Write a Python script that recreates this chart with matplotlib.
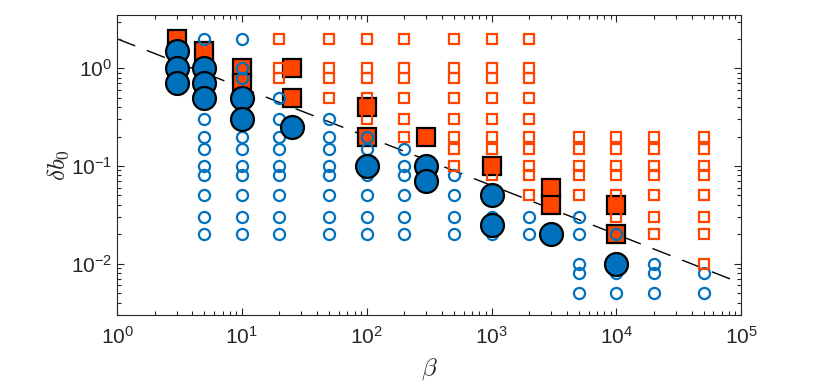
import numpy as np
import matplotlib
matplotlib.use("Agg")
import matplotlib.pyplot as plt

# ---- data ----
# open blue circles (grid points)
oc_beta = [5]*12 + [10]*12 + [20]*9 + [50]*8 + [100]*7 + [200]*6 + [500]*4 + [1000]*3 + [2000]*2 + \
          [5000]*5 + [10000]*4 + [20000]*3 + [50000]*2
oc_db = [2, 1, 0.8, 0.5, 0.3, 0.2, 0.15, 0.1, 0.08, 0.05, 0.03, 0.02] + \
        [2, 1, 0.8, 0.5, 0.3, 0.2, 0.15, 0.1, 0.08, 0.05, 0.03, 0.02] + \
        [0.5, 0.3, 0.2, 0.15, 0.1, 0.08, 0.05, 0.03, 0.02] + \
        [0.3, 0.2, 0.15, 0.1, 0.08, 0.05, 0.03, 0.02] + \
        [0.2, 0.15, 0.1, 0.08, 0.05, 0.03, 0.02] + \
        [0.15, 0.1, 0.08, 0.05, 0.03, 0.02] + \
        [0.08, 0.05, 0.03, 0.02] + \
        [0.05, 0.03, 0.02] + \
        [0.03, 0.02] + \
        [0.03, 0.02, 0.01, 0.008, 0.005] + \
        [0.02, 0.01, 0.008, 0.005] + \
        [0.01, 0.008, 0.005] + \
        [0.008, 0.005]

# open orange squares (grid points)
os_beta = [20]*3 + [50]*4 + [100]*5 + [200]*6 + [500]*8 + [1000]*9 + [2000]*10 + \
          [5000]*5 + [10000]*6 + [20000]*7 + [50000]*8
os_db = [2, 1, 0.8] + \
        [2, 1, 0.8, 0.5] + \
        [2, 1, 0.8, 0.5, 0.3] + \
        [2, 1, 0.8, 0.5, 0.3, 0.2] + \
        [2, 1, 0.8, 0.5, 0.3, 0.2, 0.15, 0.1] + \
        [2, 1, 0.8, 0.5, 0.3, 0.2, 0.15, 0.1, 0.08] + \
        [2, 1, 0.8, 0.5, 0.3, 0.2, 0.15, 0.1, 0.08, 0.05] + \
        [0.2, 0.15, 0.1, 0.08, 0.05] + \
        [0.2, 0.15, 0.1, 0.08, 0.05, 0.03] + \
        [0.2, 0.15, 0.1, 0.08, 0.05, 0.03, 0.02] + \
        [0.2, 0.15, 0.1, 0.08, 0.05, 0.03, 0.02, 0.01]

# filled orange squares
fs_beta = [3, 5, 10, 10, 25, 25, 100, 100, 300, 1000, 3000, 3000, 10000, 10000]
fs_db = [2, 1.5, 1, 0.7, 1, 0.5, 0.4, 0.2, 0.2, 0.1, 0.06, 0.04, 0.04, 0.02]

# filled blue circles
fc_beta = [3, 3, 3, 5, 5, 5, 10, 10, 25, 100, 300, 300, 1000, 1000, 3000, 10000]
fc_db = [1.5, 1, 0.7, 1, 0.7, 0.5, 0.5, 0.3, 0.25, 0.1, 0.1, 0.07, 0.05, 0.025, 0.02, 0.01]

# reference line: db = 2 * beta^-0.5
line_beta = [1, 1e5]
line_coef = 2.0
line_exp = -0.5

blue = '#0072BD'
orange = '#FF4500'
axcol = '#262626'

plt.rcParams['font.family'] = ['Liberation Sans', 'DejaVu Sans']
plt.rcParams['mathtext.fontset'] = 'cm'
plt.rcParams['axes.unicode_minus'] = False

fig = plt.figure(figsize=(8.3, 3.85), dpi=100)
ax = fig.add_axes([0.141, 0.182, 0.752, 0.779])

lb = np.array(line_beta)
ax.plot(lb, line_coef * lb**line_exp, color='k', lw=1.0, dashes=(14, 9), zorder=1)

ax.plot(fs_beta, fs_db, linestyle='none', marker='s', ms=13, mfc=orange, mec='k', mew=1.6, zorder=2)
ax.plot(oc_beta, oc_db, linestyle='none', marker='o', ms=8, mfc='none', mec=blue, mew=1.6, zorder=3)
ax.plot(os_beta, os_db, linestyle='none', marker='s', ms=7, mfc='none', mec=orange, mew=1.6, zorder=3)
ax.plot(fc_beta, fc_db, linestyle='none', marker='o', ms=16.5, mfc=blue, mec='k', mew=1.6, zorder=4)

ax.set_xscale('log')
ax.set_yscale('log')
ax.set_xlim(1, 1e5)
ax.set_ylim(0.003, 3.5)

ax.tick_params(which='both', direction='in', top=True, right=True, colors=axcol, labelsize=15)
ax.tick_params(which='major', length=5, width=0.8)
ax.tick_params(which='minor', length=3, width=0.8)
ax.tick_params(axis='x', pad=8)
for s in ax.spines.values():
    s.set_color(axcol)
    s.set_linewidth(0.8)

ax.set_xlabel(r'$\beta$', fontsize=18, color=axcol, labelpad=6)
ax.set_ylabel(r'$\delta b_0$', fontsize=18, color=axcol, labelpad=0)

fig.savefig('out.png', dpi=100)
